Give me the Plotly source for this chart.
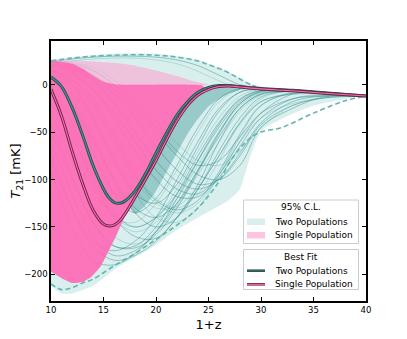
import plotly.graph_objects as go

# ---------------------------------------------------------------
# data (x = 1+z, y = T21 in mK)
# ---------------------------------------------------------------
zs = [10, 12, 14, 16, 18, 20, 22, 24, 26, 28, 30, 33, 36, 40]

# sample curves, two-population model
teal_curves = [
    [10, 5, -15, -50, -90, -120, -130, -115, -80, -40, -15, -6, -8, -12],
    [0, -20, -60, -100, -130, -140, -125, -90, -50, -20, -8, -6, -8, -12],
    [15, 10, -5, -30, -60, -90, -110, -115, -95, -60, -30, -10, -9, -12],
    [-30, -70, -110, -140, -150, -140, -110, -70, -35, -12, -5, -6, -8, -12],
    [20, 18, 10, -5, -25, -50, -75, -95, -100, -85, -45, -25, -13, -12],
    [-80, -130, -165, -175, -165, -140, -100, -60, -25, -8, -4, -6, -8, -12],
    [5, -10, -40, -80, -115, -140, -145, -130, -95, -55, -22, -8, -8, -12],
    [25, 22, 15, 0, -20, -45, -70, -85, -80, -55, -30, -15, -12, -12],
    [-20, -55, -100, -140, -160, -162, -140, -105, -60, -25, -10, -7, -8, -12],
    [10, 0, -25, -60, -100, -125, -135, -125, -95, -60, -35, -20, -14, -12],
    [-50, -100, -145, -170, -170, -150, -115, -75, -40, -15, -6, -6, -8, -12],
    [25, 20, 10, -10, -35, -65, -90, -105, -100, -75, -42, -22, -14, -12],
    [22, 25, 27, 28, 28, 26, 22, 14, 4, -4, -6, -7, -9, -12],
    [24, 27, 29, 30, 30, 29, 26, 20, 10, 0, -4, -6, -9, -12],
    [5, -20, -70, -115, -135, -120, -85, -45, -15, -4, -4, -6, -8.5, -12],
    [-10, -50, -105, -140, -145, -125, -90, -50, -18, -5, -4, -6, -8.5, -12],
    [15, 0, -35, -80, -115, -125, -105, -65, -28, -8, -5, -6, -8.5, -12],
    [0, -40, -95, -135, -150, -140, -115, -80, -45, -18, -7, -6, -8.5, -12],
    [-5, -45, -100, -140, -155, -145, -120, -85, -50, -22, -9, -7, -8.5, -12],
    [-60, -115, -160, -180, -175, -155, -120, -80, -42, -16, -6, -6, -8.5, -12],
    [-90, -150, -185, -190, -178, -155, -125, -90, -55, -25, -10, -7, -9, -12],
    [10, -5, -35, -75, -110, -130, -128, -108, -75, -42, -18, -9, -9, -12],
    [20, 12, -5, -35, -70, -100, -118, -118, -98, -65, -35, -15, -11, -12],
    [22, 18, 5, -20, -50, -80, -102, -110, -100, -72, -40, -18, -12, -12],
    [-30, -80, -130, -160, -168, -155, -128, -95, -60, -28, -11, -7, -9, -12],
    [15, 5, -20, -55, -95, -122, -132, -122, -92, -52, -22, -9, -9, -12],
    [-70, -130, -170, -185, -180, -165, -140, -110, -75, -40, -18, -10, -10, -12],
    [25, 23, 18, 5, -15, -38, -62, -80, -85, -70, -45, -22, -14, -12],
    [5, -15, -55, -100, -135, -150, -140, -110, -70, -35, -13, -7, -8.5, -12],
    [-40, -95, -145, -170, -172, -158, -130, -92, -52, -20, -7, -6, -8.5, -12],
]

# 95% C.L. envelope, two populations
teal_hi_z = [10, 12, 14, 16, 18, 20, 22, 24, 25, 26, 27, 28, 29, 30, 32, 35, 38, 40]
teal_hi_t = [26, 29, 31, 32.5, 33, 32.5, 30, 26, 22, 18, 13, 7, 1, -2, -4, -7, -10, -12]
teal_lo_z = [10, 11, 12, 14, 16, 18, 20, 22, 24, 25, 26, 27, 28, 29, 30, 32, 35, 38, 40]
teal_lo_t = [-212, -220, -220, -212, -195, -182, -169, -153, -140, -134, -128, -121, -110, -75, -49, -36, -22, -15, -12]

# dense bundle of two-population curves just right of the best fit
dense_z = [17.5, 18, 19, 20, 21, 22, 23, 24, 25, 26, 27, 28, 28, 27, 26, 25, 24, 23, 22, 21, 20, 19, 18, 17.5]
dense_t = [-119, -112, -94, -72, -51, -32, -18, -8, -3, -1, -1, -2, -5, -9, -15, -23, -36, -52, -72, -92, -112, -127, -136, -128]

# dashed bounds
dash_hi_z = [10, 12, 14, 16, 18, 20, 22, 24, 25, 26, 27, 28, 29, 29.5]
dash_hi_t = [25, 28, 30, 31, 31.5, 31, 29, 25, 21, 17, 12, 6, 0, -2]
dash_lo_z = [10, 11, 12, 13, 14, 16, 18, 20, 22, 24, 26, 27, 28, 29, 30, 32, 35, 38, 40]
dash_lo_t = [-210, -216, -214, -209, -205, -191, -178, -163, -148, -130, -102, -82, -67, -56, -50, -45, -30, -17, -12]

# single population region
pink_lt_z = [10, 12, 14, 16, 18, 20, 22, 23, 24, 25, 24, 16, 10]
pink_lt_t = [25, 25.5, 24.5, 23, 20, 15, 9, 5.5, 2.5, 0, -1, -1, 20]
pink_z = [10, 11, 12, 13, 14, 15, 16, 17, 20, 23, 24.3, 24.6, 24, 23, 22, 21, 20, 19, 18,
          17.7, 17, 16.3, 15.5, 14.7, 13.8, 13, 12, 11, 10]
pink_t = [25, 24, 22, 17, 9, 3, 0.5, 0, 0, 0, -0.5, -3, -9, -20, -35, -54, -76, -98, -116,
          -124, -140, -157, -175, -192, -203, -208, -209, -204, -197]

# best fits
fit_z = [10, 11, 12, 13, 14, 15, 15.5, 16, 16.5, 17, 18, 19, 20, 21, 22, 23, 24, 25, 26, 27, 28, 30, 33, 36, 40]
fit_two = [8, -2, -24, -53, -85, -110, -119, -124, -125, -123, -112, -94, -72, -51, -32, -18, -8, -3, -1, -1, -2, -4, -6, -8.5, -12]
fit_one = [-5, -33, -70, -104, -132, -147, -149, -148, -144, -137, -119, -100, -80, -58, -38, -22, -11, -5, -2, -1.5, -2.5, -4.5, -6.5, -9, -12]

font = "DejaVu Sans"
fig = go.Figure()

# band, two populations
fig.add_trace(go.Scatter(
    x=teal_hi_z + teal_lo_z[::-1], y=teal_hi_t + teal_lo_t[::-1],
    fill="toself", fillcolor="#d9efed", line=dict(width=0, shape="spline", smoothing=0.6),
    mode="lines", showlegend=False, hoverinfo="skip"))

fig.add_trace(go.Scatter(
    x=dense_z, y=dense_t, fill="toself", fillcolor="rgba(30,135,132,0.35)",
    line=dict(width=0, shape="spline", smoothing=0.6),
    mode="lines", showlegend=False, hoverinfo="skip"))

for i, c in enumerate(teal_curves):
    col = "rgba(25,125,125,0.5)" if i % 3 else "rgba(60,160,155,0.35)"
    fig.add_trace(go.Scatter(x=zs, y=c, mode="lines", showlegend=False, hoverinfo="skip",
                             line=dict(color=col, width=0.8, shape="spline")))

# band, single population
fig.add_trace(go.Scatter(
    x=pink_lt_z, y=pink_lt_t, fill="toself", fillcolor="rgba(248,175,212,0.7)",
    line=dict(width=0, shape="spline", smoothing=0.6),
    mode="lines", showlegend=False, hoverinfo="skip"))
fig.add_trace(go.Scatter(
    x=pink_z, y=pink_t, fill="toself", fillcolor="rgba(255,105,180,0.92)",
    line=dict(width=0, shape="spline", smoothing=0.5),
    mode="lines", showlegend=False, hoverinfo="skip"))

for zz, tt in [(dash_hi_z, dash_hi_t), (dash_lo_z, dash_lo_t)]:
    fig.add_trace(go.Scatter(x=zz, y=tt, mode="lines", showlegend=False, hoverinfo="skip",
                             line=dict(color="#63b5b1", width=1.6, dash="5px,3px", shape="spline")))

# best fit curves: dark edge + coloured core
fig.add_trace(go.Scatter(x=fit_z, y=fit_two, mode="lines", showlegend=False, hoverinfo="skip",
                         line=dict(color="#2f4f4f", width=3, shape="spline")))
fig.add_trace(go.Scatter(x=fit_z, y=fit_two, mode="lines", showlegend=False, hoverinfo="skip",
                         line=dict(color="#3f9691", width=1.1, shape="spline")))
fig.add_trace(go.Scatter(x=fit_z, y=fit_one, mode="lines", showlegend=False, hoverinfo="skip",
                         line=dict(color="#6a2848", width=3, shape="spline")))
fig.add_trace(go.Scatter(x=fit_z, y=fit_one, mode="lines", showlegend=False, hoverinfo="skip",
                         line=dict(color="#ff69b4", width=1.1, shape="spline")))

# ---------------------------------------------------------------
# page body has an 8px margin, so the figure is shifted by OFF
# ---------------------------------------------------------------
OFF = 8
L, R, T, B = 51 - OFF, 41 + OFF, 41 - OFF, 38 + OFF
W, H = 407 - L - R, 339 - T - B


def px(x):
    return (x - OFF - L) / W


def py(y):
    return (339 - B - (y - OFF)) / H


shapes = []
annots = []
box = dict(type="rect", xref="paper", yref="paper", fillcolor="white",
           line=dict(color="#cccccc", width=1), layer="above")
shapes.append(dict(box, x0=px(243.5), x1=px(358.5), y0=py(243.5), y1=py(200)))
shapes.append(dict(box, x0=px(243.5), x1=px(358.5), y0=py(289.5), y1=py(249.5)))

patch = dict(type="rect", xref="paper", yref="paper", line=dict(width=0), layer="above")
shapes.append(dict(patch, x0=px(247), x1=px(265), y0=py(225), y1=py(218.5), fillcolor="#d9efed"))
shapes.append(dict(patch, x0=px(247), x1=px(265), y0=py(238.5), y1=py(232), fillcolor="#fcc5e0"))

seg = dict(type="line", xref="paper", yref="paper", x0=px(247), x1=px(265), layer="above")
shapes.append(dict(seg, y0=py(270.7), y1=py(270.7), line=dict(color="#2f4f4f", width=2.6)))
shapes.append(dict(seg, y0=py(270.7), y1=py(270.7), line=dict(color="#356f6c", width=1)))
shapes.append(dict(seg, y0=py(284.3), y1=py(284.3), line=dict(color="#6a2848", width=2.6)))
shapes.append(dict(seg, y0=py(284.3), y1=py(284.3), line=dict(color="#ff69b4", width=1)))

leg_text = [("95% C.L.", 301, 207, "center"),
            ("Two Populations", 273, 221.7, "left"),
            ("Single Population", 273, 235.2, "left"),
            ("Best Fit", 301, 257.3, "center"),
            ("Two Populations", 273, 270.7, "left"),
            ("Single Population", 273, 284.3, "left")]
for txt, x, y, anc in leg_text:
    annots.append(dict(text=txt, xref="paper", yref="paper", x=px(x), y=py(y),
                       xanchor=anc, yanchor="middle", showarrow=False,
                       font=dict(family=font, size=9, color="black")))

axis = dict(showline=True, linecolor="black", linewidth=1.5, mirror="allticks",
            ticks="inside", ticklen=4, tickcolor="black", showgrid=False, zeroline=False,
            automargin=False, tickfont=dict(family=font, size=8.5, color="black"))

fig.update_layout(
    width=407, height=339,
    margin=dict(l=L, r=R, t=T, b=B),
    paper_bgcolor="white", plot_bgcolor="white",
    font=dict(family=font, color="black"),
    showlegend=False,
    xaxis=dict(range=[10, 40], dtick=5, title=dict(text="1+z", font=dict(size=13), standoff=6), **axis),
    yaxis=dict(range=[-228, 46], dtick=50, title=dict(text="<i>T</i><sub>21</sub> [mK]", font=dict(size=13), standoff=2), **axis),
    shapes=shapes,
    annotations=annots,
)

fig.write_html("out.html")
